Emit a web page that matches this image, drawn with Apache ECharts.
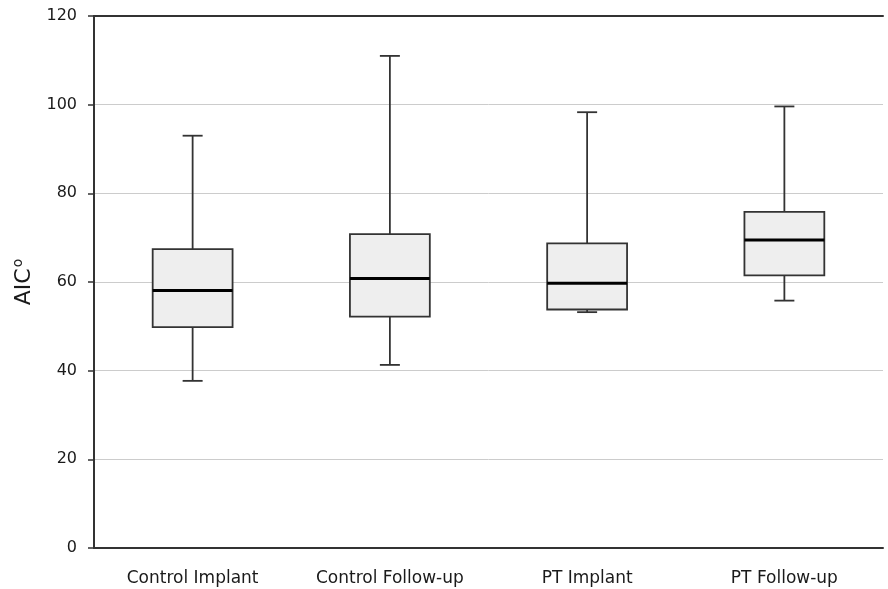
<!DOCTYPE html>
<html>
<head>
<meta charset="utf-8">
<script src="https://cdn.jsdelivr.net/npm/echarts@6/dist/echarts.min.js"></script>
<style>html,body{margin:0;padding:0;background:#fff;}#c{width:888px;height:589px;}</style>
</head>
<body>
<div id="c"></div>
<script>
// Data
var categories = ['Control Implant', 'Control Follow-up', 'PT Implant', 'PT Follow-up'];
var whiskerLow  = [37.7, 41.3, 53.2, 55.8];
var q1          = [49.8, 52.2, 53.8, 61.5];
var median      = [58.1, 60.8, 59.7, 69.5];
var q3          = [67.4, 70.8, 68.7, 75.8];
var whiskerHigh = [93.0, 111.0, 98.3, 99.6];
var yTicks = [0, 20, 40, 60, 80, 100, 120];

var boxData = categories.map(function (c, i) {
  return [i, whiskerLow[i], q1[i], median[i], q3[i], whiskerHigh[i]];
});

var FONT = 'DejaVu Sans';
var LINE = '#333333';
var TEXT = '#1a1a1a';

var chart = echarts.init(document.getElementById('c'), null, {renderer: 'canvas'});
chart.setOption({
  animation: false,
  backgroundColor: '#ffffff',
  grid: {left: 94, right: 5, top: 16, bottom: 41, containLabel: false},
  xAxis: [{
    type: 'category',
    data: categories,
    boundaryGap: true,
    axisLine: {show: true, lineStyle: {color: LINE, width: 2}},
    axisTick: {show: false},
    axisLabel: {color: TEXT, fontFamily: FONT, fontSize: 17, margin: 22},
    splitLine: {show: false}
  }, {
    type: 'category',
    data: categories,
    position: 'top',
    boundaryGap: true,
    axisLine: {show: true, lineStyle: {color: LINE, width: 2}},
    axisTick: {show: false},
    axisLabel: {show: false}
  }],
  yAxis: {
    type: 'value',
    min: yTicks[0],
    max: yTicks[yTicks.length - 1],
    interval: 20,
    name: '{a|AIC}{b|o}',
    nameLocation: 'middle',
    nameGap: 56,
    nameRotate: 90,
    nameTextStyle: {
      rich: {
        a: {fontFamily: FONT, fontSize: 22, color: TEXT, lineHeight: 26},
        b: {fontFamily: FONT, fontSize: 14, color: TEXT, lineHeight: 26, verticalAlign: 'top', padding: [0, 0, 8, 1]}
      }
    },
    axisLine: {show: true, lineStyle: {color: LINE, width: 2}},
    axisTick: {show: true, length: 6, lineStyle: {color: LINE, width: 1.5}},
    axisLabel: {color: TEXT, fontFamily: FONT, fontSize: 16, margin: 17},
    splitLine: {show: true, lineStyle: {color: '#cccccc', width: 1}}
  },
  series: [{
    type: 'custom',
    xAxisIndex: 0,
    yAxisIndex: 0,
    data: boxData,
    encode: {x: 0, y: [1, 2, 3, 4, 5]},
    renderItem: function (params, api) {
      var idx = api.value(0);
      var band = api.size([1, 0])[0];
      var bw = band * 0.405;
      var cw = 20;
      var pLow = api.coord([idx, api.value(1)]);
      var pQ1 = api.coord([idx, api.value(2)]);
      var pMed = api.coord([idx, api.value(3)]);
      var pQ3 = api.coord([idx, api.value(4)]);
      var pHigh = api.coord([idx, api.value(5)]);
      var x = pMed[0];
      var ls = {stroke: LINE, lineWidth: 1.8};
      return {
        type: 'group',
        children: [
          {type: 'line', shape: {x1: x, y1: pHigh[1], x2: x, y2: pQ3[1]}, style: ls},
          {type: 'line', shape: {x1: x, y1: pQ1[1], x2: x, y2: pLow[1]}, style: ls},
          {type: 'line', shape: {x1: x - cw / 2, y1: pHigh[1], x2: x + cw / 2, y2: pHigh[1]}, style: ls},
          {type: 'line', shape: {x1: x - cw / 2, y1: pLow[1], x2: x + cw / 2, y2: pLow[1]}, style: ls},
          {type: 'rect', shape: {x: x - bw / 2, y: pQ3[1], width: bw, height: pQ1[1] - pQ3[1]},
            style: {fill: '#eeeeee', stroke: LINE, lineWidth: 1.8}},
          {type: 'line', shape: {x1: x - bw / 2, y1: pMed[1], x2: x + bw / 2, y2: pMed[1]},
            style: {stroke: '#000000', lineWidth: 3}}
        ]
      };
    }
  }]
});
</script>
</body>
</html>
